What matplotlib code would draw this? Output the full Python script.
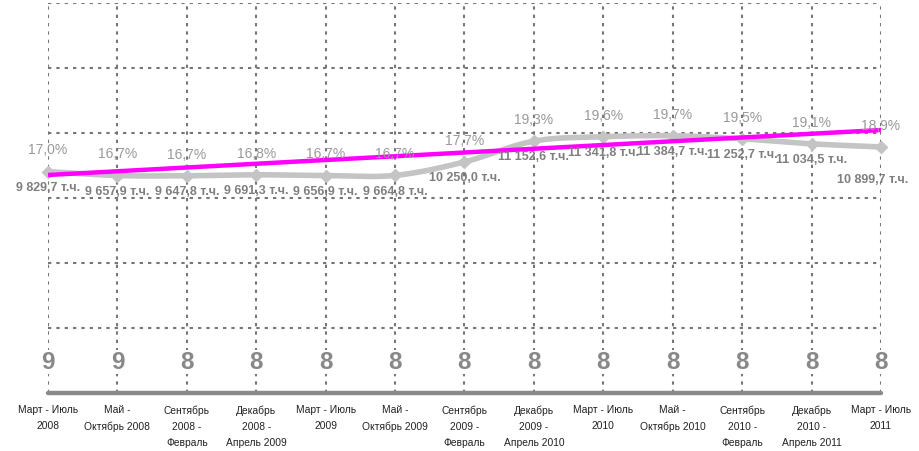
import numpy as np
import matplotlib
matplotlib.use("Agg")
import matplotlib.pyplot as plt
from matplotlib import transforms

plt.rcParams['font.family'] = ['Liberation Sans', 'DejaVu Sans']

periods = [
    "Март - Июль\n2008", "Май -\nОктябрь 2008", "Сентябрь\n2008 -\nФевраль",
    "Декабрь\n2008 -\nАпрель 2009", "Март - Июль\n2009", "Май -\nОктябрь 2009",
    "Сентябрь\n2009 -\nФевраль", "Декабрь\n2009 -\nАпрель 2010", "Март - Июль\n2010",
    "Май -\nОктябрь 2010", "Сентябрь\n2010 -\nФевраль", "Декабрь\n2010 -\nАпрель 2011",
    "Март - Июль\n2011",
]
audience = [9829.7, 9657.9, 9647.8, 9691.3, 9656.9, 9664.8, 10250.0,
            11152.6, 11341.8, 11384.7, 11252.7, 11034.5, 10899.7]
share = [17.0, 16.7, 16.7, 16.8, 16.7, 16.7, 17.7, 19.3, 19.6, 19.7, 19.5, 19.1, 18.9]
rank = [9, 9, 8, 8, 8, 8, 8, 8, 8, 8, 8, 8, 8]
trend = [9681, 11635]  # trend line at first and last period


def smooth(x, y, n=20):
    # cubic bezier through the points, catmull-rom tangents
    x = np.asarray(x, float)
    y = np.asarray(y, float)
    px = np.concatenate([[x[0]], x, [x[-1]]])
    py = np.concatenate([[y[0]], y, [y[-1]]])
    t = np.linspace(0, 1, n)[:, None]
    xs, ys = [], []
    for i in range(1, len(px) - 2):
        p0 = np.array([px[i], py[i]])
        p3 = np.array([px[i + 1], py[i + 1]])
        p1 = p0 + (np.array([px[i + 1], py[i + 1]]) - np.array([px[i - 1], py[i - 1]])) / 6
        p2 = p3 - (np.array([px[i + 2], py[i + 2]]) - np.array([px[i], py[i]])) / 6
        pts = ((1 - t) ** 3) * p0 + 3 * ((1 - t) ** 2) * t * p1 + 3 * (1 - t) * t ** 2 * p2 + t ** 3 * p3
        xs.append(pts[:, 0])
        ys.append(pts[:, 1])
    return np.concatenate(xs), np.concatenate(ys)


fig = plt.figure(figsize=(9.2, 4.52), dpi=100)
ax = fig.add_axes([48 / 920, (452 - 394) / 452, (881 - 48) / 920, 390 / 452])

x = np.arange(len(audience))
ylo, yhi = 215, 17150
ax.set_xlim(0, len(x) - 1)
ax.set_ylim(ylo, yhi)

ax.set_xticks(x)
ax.set_xticklabels(periods, fontsize=7.4, color="#222222", linespacing=1.75)
ax.set_yticks(np.linspace(ylo, yhi, 7)[1:])
ax.set_yticklabels([])
ax.tick_params(length=0, pad=8)
ax.grid(True, color="#777777", linestyle=(0, (1.6, 2.4)), linewidth=1.5)

for s in ["top", "left", "right"]:
    ax.spines[s].set_visible(False)
ax.spines["bottom"].set_color("#8a8a8a")
ax.spines["bottom"].set_linewidth(3.2)
ax.spines["bottom"].set_capstyle("round")
ax.spines["bottom"].set_zorder(5)

sx, sy = smooth(x, audience)
ax.plot(sx, sy, color="#c4c4c4", lw=4, solid_capstyle="round", zorder=3, clip_on=False)
ax.plot(x, audience, linestyle="none", marker="D", ms=6.5, color="#c4c4c4",
        zorder=3, clip_on=False)

ax.plot([x[0], x[-1]], trend, color="#ff00ff", lw=3.2, zorder=4, solid_capstyle="butt")

for i, (v, p) in enumerate(zip(audience, share)):
    ax.annotate(f"{p:.1f}".replace(".", ",") + "%", (i, v), xytext=(0, 16),
                textcoords="offset points", ha="center", va="center",
                fontsize=10, color="#999999", zorder=6, annotation_clip=False)
    lbl = f"{v:,.1f}".replace(",", " ").replace(".", ",") + " т.ч."
    off = (-6, -23) if i == len(audience) - 1 else (0, -11)
    ax.annotate(lbl, (i, v), xytext=off, textcoords="offset points",
                ha="center", va="center", fontsize=9, fontweight="bold",
                color="#7f7f7f", zorder=6, annotation_clip=False)

trans = transforms.blended_transform_factory(ax.transData, ax.transAxes)
for i, r in enumerate(rank):
    ax.text(i, 0.08, str(r), transform=trans, ha="center", va="center",
            fontsize=17.5, fontweight="bold", color="#888888", zorder=6,
            bbox=dict(facecolor="white", edgecolor="none", pad=0.5))

fig.savefig("out.png", dpi=100)
